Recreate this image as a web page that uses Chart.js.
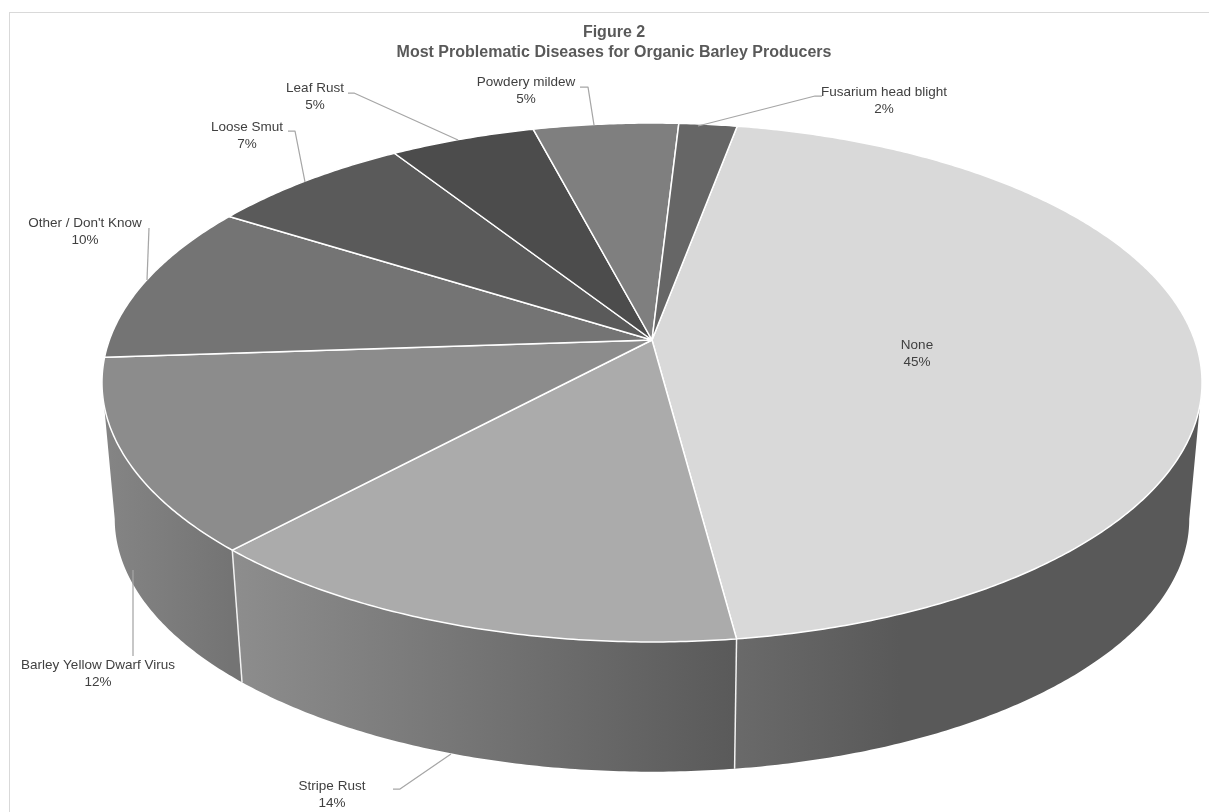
<!DOCTYPE html>
<html>
<head>
<meta charset="utf-8">
<title>Figure 2</title>
<script src="https://cdn.jsdelivr.net/npm/chart.js@4"></script>
<style>
  html, body { margin: 0; background: #fff; overflow: hidden; }
  #frame { position: absolute; left: 9px; top: 12px; width: 1300px; height: 900px; border: 1px solid #d9d9d9; }
  #chart { position: absolute; left: 0; top: 0; }
</style>
</head>
<body>
<div id="frame"></div>
<canvas id="chart" width="1228" height="812"></canvas>
<script>
const diseases = ['None', 'Stripe Rust', 'Barley Yellow Dwarf Virus', "Other / Don't Know", 'Loose Smut', 'Leaf Rust', 'Powdery mildew', 'Fusarium head blight'];
const shares = [45, 14, 12, 10, 7, 5, 5, 2];
const titleLines = ['Figure 2', 'Most Problematic Diseases for Organic Barley Producers'];

const topColors = ['#d9d9d9', '#ababab', '#8c8c8c', '#747474', '#5a5a5a', '#4c4c4c', '#7f7f7f', '#666666'];
// side wall shade, left and right end of each visible piece
const wallShades = [['#6a6a6a', '#595959'], ['#8e8e8e', '#5a5a5a'], ['#848484', '#747474']];
const wallSpans = [[733, 900], [225, 733], [110, 230]];

// label centre, then the leader line from text to pie
const labelSpots = [
  { x: 917, y: 345 },
  { x: 332, y: 786, line: [[393, 789], [400, 789], [451, 754]] },
  { x: 98, y: 665, line: [[133, 656], [133, 570]] },
  { x: 85, y: 223, line: [[149, 228], [147, 280]] },
  { x: 247, y: 127, line: [[288, 131], [295, 131], [305, 182]] },
  { x: 315, y: 88, line: [[348, 93], [354, 93], [458, 140]] },
  { x: 526, y: 82, line: [[580, 87], [588, 87], [594, 125]] },
  { x: 884, y: 92, line: [[822, 96], [815, 96], [698, 126]] }
];

// perspective view of the round pie: k makes the near side bigger
const topFace = { cx: 652, cy: 340, a: 542.6, b: 252.5, k: -0.1638 };
const lowFace = { cx: 652, cy: 477.5, a: 530, b: 246, k: -0.1638 };
const step = Math.PI / 360;

let project = (face, angle) => {
  let u = Math.cos(angle);
  let v = Math.sin(angle);
  let w = 1 + face.k * v;
  return [face.cx + face.a * u / w, face.cy + face.b * v / w];
};

let traceArc = (ctx, face, from, to) => {
  let n = Math.max(1, Math.ceil(Math.abs(to - from) / step));
  for (let i = 0; i <= n; i++) {
    let p = project(face, from + (to - from) * i / n);
    ctx.lineTo(p[0], p[1]);
  }
};

const pie3d = {
  id: 'pie3d',
  beforeDatasetsDraw(chart) {
    const ctx = chart.ctx;
    const arcs = chart.getDatasetMeta(0).data;
    ctx.save();

    // walls first, only the part between the two widest points shows
    const wallFrom = 0.165;
    const wallTo = Math.PI - 0.165;
    arcs.forEach((arc, i) => {
      let from = Math.max(arc.startAngle, wallFrom);
      let to = Math.min(arc.endAngle, wallTo);
      if (to <= from || !wallShades[i]) return;
      let grad = ctx.createLinearGradient(wallSpans[i][0], 0, wallSpans[i][1], 0);
      grad.addColorStop(0, wallShades[i][0]);
      grad.addColorStop(1, wallShades[i][1]);
      ctx.beginPath();
      traceArc(ctx, topFace, from, to);
      traceArc(ctx, lowFace, to, from);
      ctx.closePath();
      ctx.fillStyle = grad;
      ctx.fill();
    });
    ctx.strokeStyle = '#f2f2f2';
    ctx.lineWidth = 1.5;
    arcs.forEach((arc) => {
      if (arc.endAngle <= wallFrom || arc.endAngle >= wallTo) return;
      let a = project(topFace, arc.endAngle);
      let b = project(lowFace, arc.endAngle);
      ctx.beginPath();
      ctx.moveTo(a[0], a[1]);
      ctx.lineTo(b[0], b[1]);
      ctx.stroke();
    });

    // top of the pie
    ctx.strokeStyle = '#ffffff';
    ctx.lineJoin = 'round';
    arcs.forEach((arc, i) => {
      ctx.beginPath();
      ctx.moveTo(topFace.cx, topFace.cy);
      traceArc(ctx, topFace, arc.startAngle, arc.endAngle);
      ctx.closePath();
      ctx.fillStyle = topColors[i];
      ctx.fill();
      ctx.stroke();
    });

    // labels and leader lines
    ctx.font = '13.5px "Liberation Sans", Arial, sans-serif';
    ctx.textAlign = 'center';
    ctx.textBaseline = 'middle';
    ctx.fillStyle = '#404040';
    ctx.strokeStyle = '#a6a6a6';
    ctx.lineWidth = 1.25;
    labelSpots.forEach((spot, i) => {
      ctx.fillText(diseases[i], spot.x, spot.y);
      ctx.fillText(shares[i] + '%', spot.x, spot.y + 17);
      if (!spot.line) return;
      ctx.beginPath();
      spot.line.forEach((p, j) => j ? ctx.lineTo(p[0], p[1]) : ctx.moveTo(p[0], p[1]));
      ctx.stroke();
    });

    ctx.restore();
    return false;
  }
};

new Chart(document.getElementById('chart'), {
  type: 'pie',
  data: {
    labels: diseases,
    datasets: [{ data: shares, backgroundColor: topColors, borderColor: '#ffffff' }]
  },
  plugins: [pie3d],
  options: {
    responsive: false,
    animation: false,
    events: [],
    rotation: 10.5,
    plugins: {
      legend: { display: false },
      tooltip: { enabled: false },
      title: {
        display: true,
        text: titleLines,
        color: '#595959',
        font: { family: '"Liberation Sans", Arial, sans-serif', size: 16, weight: 'bold', lineHeight: 1.25 },
        padding: { top: 23, bottom: 0 }
      }
    }
  }
});
</script>
</body>
</html>
